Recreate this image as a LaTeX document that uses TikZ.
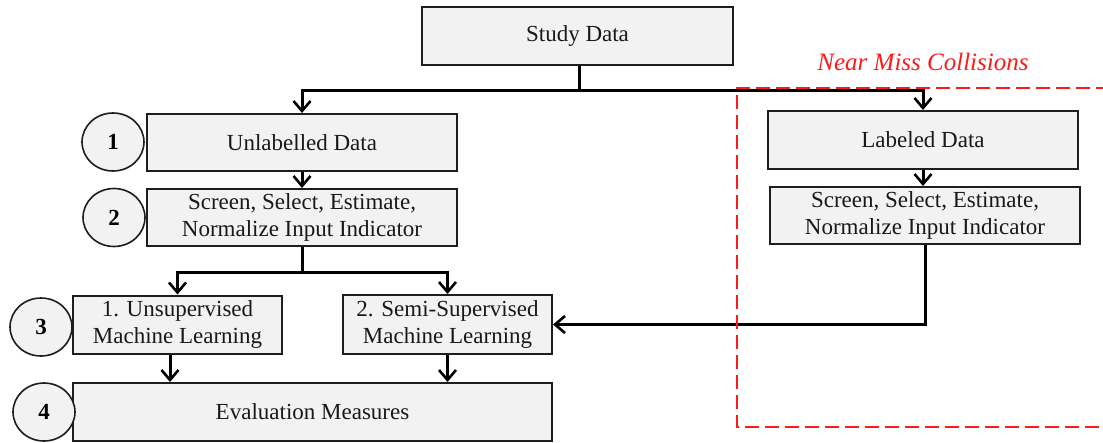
\documentclass[tikz,border=0pt]{standalone}
\usepackage{fontspec}
\setmainfont{Liberation Serif}
\usetikzlibrary{arrows.meta,shapes.geometric}
\definecolor{boxfill}{HTML}{F2F2F2}
\definecolor{boxline}{HTML}{1E1E1E}
\definecolor{zone}{HTML}{FF1A1A}
\begin{document}
\begin{tikzpicture}[x=1pt,y=-1pt,
  box/.style={draw=boxline, line width=2pt, fill=boxfill, inner sep=0pt,
    align=center, text=black!90, font=\fontsize{23}{27}\selectfont},
  badge/.style={ellipse, draw=boxline, line width=1.6pt, fill=boxfill,
    minimum width=62pt, minimum height=58pt, inner sep=0pt,
    font=\fontsize{23}{27}\selectfont\bfseries},
  link/.style={line width=3pt, draw=black},
  flow/.style={link, -{Straight Barb[length=10pt,width=17pt,line width=2.6pt]}},
]
\useasboundingbox (0,0) rectangle (1103,442);

% process boxes
\node[box, minimum width=311pt, minimum height=58pt] (study) at (577.5,36) {Study Data};
\node[box, minimum width=310pt, minimum height=57pt] (unl)   at (302,142.5) {Unlabelled Data};
\node[box, minimum width=310pt, minimum height=57pt] (scrL)  at (302,217.5)
  {Screen, Select, Estimate,\\Normalize Input Indicator};
\node[box, minimum width=209pt, minimum height=58pt] (unsup) at (177.5,324.5)
  {1. Unsupervised\\Machine Learning};
\node[box, minimum width=209pt, minimum height=59pt] (semi)  at (447.5,324.5)
  {2. Semi-Supervised\\Machine Learning};
\node[box, minimum width=479pt, minimum height=58pt] (eval)  at (312.5,412) {Evaluation Measures};
\node[box, minimum width=310pt, minimum height=58pt] (lab)   at (923,140) {Labeled Data};
\node[box, minimum width=310pt, minimum height=57pt] (scrR)  at (925,215.5)
  {Screen, Select, Estimate,\\Normalize Input Indicator};

% step numbers
\node[badge] (n1) at (113,142) {1};
\node[badge] (n2) at (114,217.5) {2};
\node[badge] (n3) at (41,327) {3};
\node[badge] (n4) at (44,412) {4};

% connectors
\coordinate (fork)  at (579,90);
\coordinate (fork2) at (302,272);
\draw[link] (study.south -| fork) -- (fork);
\draw[flow] (fork) -| (unl.north);
\draw[flow] (fork) -| (lab.north);
\draw[flow] (unl.south) -- (scrL.north);
\draw[link] (scrL.south) -- (fork2);
\draw[flow] (fork2) -| (unsup.north);
\draw[flow] (fork2) -| (semi.north);
\draw[flow] ([xshift=-7.5pt]unsup.south) -- ([xshift=-7.5pt]unsup.south |- eval.north);
\draw[flow] (semi.south) -- (semi.south |- eval.north);
\draw[flow] (lab.south) -- (lab.south |- scrR.north);
\draw[flow] (scrR.south) |- (semi.east);

% labelled-data zone
\draw[zone, line width=2pt, dash pattern=on 14pt off 6pt]
  (1110,88) -- (737,88) -- (737,427) -- (1110,427);
\node[text=zone, font=\fontsize{25}{29}\selectfont\itshape] (zonelabel) at (923,62)
  {Near Miss Collisions};
\end{tikzpicture}
\end{document}
